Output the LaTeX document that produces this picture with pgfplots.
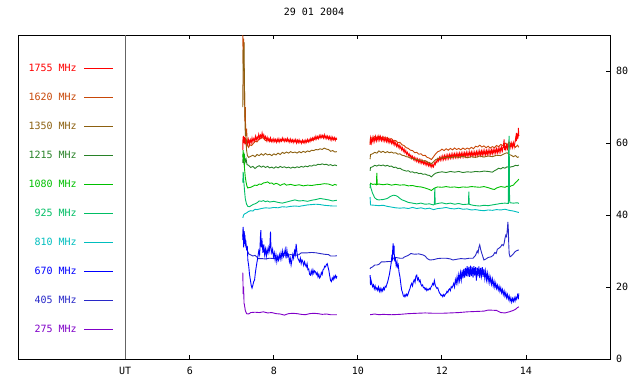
\documentclass[border=0pt]{standalone}
\usepackage{fontspec}
\setmainfont{DejaVu Sans Mono}
\usepackage{pgfplots}
\pgfplotsset{compat=1.18}
\definecolor{c1755}{RGB}{255,0,0}
\definecolor{c1620}{RGB}{200,72,8}
\definecolor{c1350}{RGB}{140,96,16}
\definecolor{c1215}{RGB}{40,130,40}
\definecolor{c1080}{RGB}{0,192,0}
\definecolor{c925}{RGB}{0,190,100}
\definecolor{c810}{RGB}{0,190,190}
\definecolor{c670}{RGB}{0,0,255}
\definecolor{c405}{RGB}{40,40,200}
\definecolor{c275}{RGB}{128,0,200}
\definecolor{vgray}{RGB}{100,100,100}
\begin{document}
\fontsize{10}{12}\selectfont
\begin{tikzpicture}
\path[use as bounding box] (0,0) rectangle (640pt,384pt);
\begin{axis}[
  at={(18pt,25pt)}, anchor=south west,
  scale only axis, width=592pt, height=324pt,
  xmin=1.91, xmax=16, ymin=0, ymax=90,
  xtick={6,8,10,12,14}, ytick={0,20,40,60,80},
  xtick pos=both, ytick pos=right, yticklabel pos=right,
  tick align=inside, major tick length=4pt,
  axis line style={line width=0.9pt},
  every tick/.style={black, line width=0.9pt},
  extra x ticks={4.46}, extra x tick labels={UT},
  extra x tick style={major tick length=0pt},
  unbounded coords=jump,
  /pgf/number format/assume math mode=true,
  tick label style={font=\fontsize{10}{12}\selectfont},
  xticklabel style={yshift=-5pt},
  yticklabel style={xshift=2.5pt},
  title={29 01 2004},
  title style={at={(0.5,1)}, anchor=base, yshift=14pt, font=\fontsize{10}{12}\selectfont},
  legend style={at={(axis cs:4.19,81.85)}, anchor=north east, draw=none, fill=none,
    inner sep=0pt, row sep=22pt, column sep=7pt,
    nodes={inner sep=0pt, text height=7pt, text depth=0pt},
    font=\fontsize{10}{12}\selectfont},
  legend cell align=right, legend plot pos=right,
  every axis plot/.append style={line width=0.9pt},
]
\addplot[vgray, forget plot] coordinates {(4.46,0) (4.46,90)};

% 1620
\addplot[c1620, forget plot] coordinates {
(7.26,90) (7.27,82) (7.28,89) (7.29,72) (7.30,76) (7.31,66) (7.32,70) (7.33,62) (7.35,64) (7.37,59.5) (7.40,58.8) (7.43,59.5) (7.47,59.3) (7.52,60) (7.56,60.5) (7.60,60.3) (7.64,61) (7.68,61.2) (7.72,61.8) (7.76,61.2) (7.80,60.7) (7.85,60.9) (7.90,60.5) (8.0,60.7) (8.1,60.5) (8.2,60.8) (8.3,60.6) (8.4,60.7) (8.5,60.4) (8.6,60.5) (8.7,60.2) (8.8,60.5) (8.9,60.7) (9.0,61.2) (9.1,61.6) (9.2,61.8) (9.3,61.4) (9.4,61.2) (9.5,61)
(9.9,nan)
(10.29,60) (10.30,61.5) (10.35,61.3) (10.40,61.8) (10.45,61.5) (10.50,61.9) (10.55,61.4) (10.60,61.7) (10.65,61.3) (10.70,61.5) (10.75,61) (10.80,61.2) (10.85,60.6) (10.90,60.7) (10.95,60.1) (11.00,60.2) (11.05,59.5) (11.10,59.3) (11.15,58.7) (11.20,58.5) (11.25,58) (11.30,57.9) (11.35,57.3) (11.40,57.4) (11.45,56.9) (11.50,57) (11.55,56.5) (11.60,56.6) (11.65,56) (11.70,55.8) (11.75,55.4) (11.80,56.2) (11.85,57) (11.90,57.6) (11.95,57.8) (12.0,58.3) (12.05,57.9) (12.10,58.4) (12.15,58) (12.20,58.5) (12.25,58.1) (12.30,58.6) (12.35,58.2) (12.40,58.5) (12.45,58.1) (12.50,58.6) (12.55,58.2) (12.60,58.6) (12.65,58.3) (12.70,58.8) (12.75,58.4) (12.80,59.1) (12.85,58.9) (12.90,59.4) (12.95,58.9) (13.00,59.2) (13.05,58.7) (13.10,59.1) (13.15,58.6) (13.20,59) (13.25,58.7) (13.30,59.3) (13.35,59) (13.40,59.6) (13.45,59.3) (13.50,60) (13.55,59.5) (13.60,60.2) (13.65,59.6) (13.70,59.8) (13.75,58.8) (13.80,59.4) (13.83,58.8)};

% 1755
\addplot[c1755, forget plot] coordinates {
(7.26,58) (7.265,61.8) (7.27,60.2) (7.28,62) (7.29,60) (7.30,61.6) (7.31,59.6) (7.32,61.5) (7.34,59.8) (7.36,60.8) (7.38,59.6) (7.40,61) (7.42,59.8) (7.44,60.9) (7.46,60) (7.48,61.4) (7.50,60.3) (7.52,61.2) (7.54,60.6) (7.56,61.9) (7.58,60.8) (7.60,61.7) (7.62,61) (7.64,62.4) (7.66,61.3) (7.68,62.2) (7.70,61.5) (7.72,62.8) (7.74,61.6) (7.76,62.3) (7.78,61.2) (7.80,61.8) (7.82,60.7) (7.84,61.6) (7.86,60.6) (7.88,61.3) (7.90,60.5) (7.92,61.4) (7.94,60.4) (7.96,61) (7.98,60.3) (8.00,61.2) (8.02,60.4) (8.04,61) (8.06,60.2) (8.08,61.1) (8.10,60.4) (8.12,61.2) (8.14,60.3) (8.16,61) (8.18,60.5) (8.20,61.4) (8.22,60.6) (8.24,61.2) (8.26,60.4) (8.28,61.1) (8.30,60.5) (8.32,61.3) (8.34,60.4) (8.36,61) (8.38,60.2) (8.40,61.1) (8.42,60.3) (8.44,60.9) (8.46,60.1) (8.48,60.9) (8.50,60.3) (8.52,61) (8.54,60) (8.56,60.8) (8.58,60.1) (8.60,60.9) (8.62,60.1) (8.64,60.6) (8.66,59.9) (8.68,60.8) (8.70,60.1) (8.72,60.7) (8.74,60) (8.76,60.8) (8.78,60.2) (8.80,61) (8.82,60.3) (8.84,61) (8.86,60.4) (8.88,61.3) (8.90,60.7) (8.92,61.4) (8.94,60.8) (8.96,61.6) (8.98,61) (9.00,61.9) (9.02,61.1) (9.04,61.8) (9.06,61.2) (9.08,62.1) (9.10,61.4) (9.12,62.2) (9.14,61.5) (9.16,62.1) (9.18,61.4) (9.20,62.3) (9.22,61.3) (9.24,62) (9.26,61.2) (9.28,61.9) (9.30,61.1) (9.32,61.8) (9.34,60.9) (9.36,61.7) (9.38,60.8) (9.40,61.6) (9.42,60.9) (9.44,61.5) (9.46,60.7) (9.48,61.4) (9.50,61)
(9.9,nan)
(10.29,59.5) (10.30,61.3) (10.32,60) (10.34,61.5) (10.36,60.3) (10.38,61.6) (10.40,60.5) (10.42,61.8) (10.44,60.6) (10.46,61.7) (10.48,60.7) (10.50,61.9) (10.52,60.8) (10.54,61.8) (10.56,60.7) (10.58,61.6) (10.60,60.6) (10.62,61.5) (10.64,60.5) (10.66,61.4) (10.68,60.4) (10.70,61.3) (10.72,60.2) (10.74,61.1) (10.76,60.1) (10.78,60.9) (10.80,59.9) (10.82,60.7) (10.84,59.7) (10.86,60.5) (10.88,59.4) (10.90,60.1) (10.92,59.1) (10.94,59.8) (10.96,58.8) (10.98,59.5) (11.00,58.5) (11.02,59.1) (11.04,58.1) (11.06,58.7) (11.08,57.7) (11.10,58.3) (11.12,57.3) (11.14,57.9) (11.16,56.9) (11.18,57.4) (11.20,56.5) (11.22,57) (11.24,56.1) (11.26,56.6) (11.28,55.7) (11.30,56.3) (11.32,55.4) (11.34,56) (11.36,55.1) (11.38,55.8) (11.40,54.9) (11.42,55.6) (11.44,54.7) (11.46,55.4) (11.48,54.5) (11.50,55.3) (11.52,54.4) (11.54,55.1) (11.56,54.2) (11.58,54.9) (11.60,54) (11.62,54.8) (11.64,53.9) (11.66,54.6) (11.68,53.7) (11.70,54.4) (11.72,53.5) (11.74,54.2) (11.76,53.3) (11.78,54) (11.80,53.4) (11.82,54.5) (11.84,54) (11.86,55) (11.88,54.6) (11.90,55.6) (11.92,55) (11.94,56) (11.96,55.2) (11.98,56.2) (12.00,55.3) (12.02,56.4) (12.04,55.4) (12.06,56.5) (12.08,55.5) (12.10,56.6) (12.12,55.6) (12.14,56.7) (12.16,55.7) (12.18,56.8) (12.20,55.8) (12.22,56.9) (12.24,55.9) (12.26,57) (12.28,55.9) (12.30,57) (12.32,56) (12.34,57.1) (12.36,56) (12.38,57.1) (12.40,56.1) (12.42,57.2) (12.44,56.1) (12.46,57.2) (12.48,56.2) (12.50,57.3) (12.52,56.2) (12.54,57.3) (12.56,56.3) (12.58,57.4) (12.60,56.3) (12.62,57.4) (12.64,56.4) (12.66,57.5) (12.68,56.4) (12.70,57.5) (12.72,56.4) (12.74,57.5) (12.76,56.4) (12.78,57.5) (12.80,56.5) (12.82,57.6) (12.84,56.5) (12.86,57.7) (12.88,56.6) (12.90,57.8) (12.92,56.6) (12.94,57.8) (12.96,56.6) (12.98,57.9) (13.00,56.7) (13.02,57.9) (13.04,56.7) (13.06,57.9) (13.08,56.8) (13.10,58) (13.12,56.8) (13.14,58) (13.16,56.9) (13.18,58.1) (13.20,57) (13.22,58.2) (13.24,57.1) (13.26,58.3) (13.28,57.2) (13.30,58.4) (13.32,57.3) (13.34,58.5) (13.36,57.4) (13.38,58.7) (13.40,57.6) (13.42,58.9) (13.44,57.8) (13.46,59) (13.48,61) (13.49,58) (13.50,59.2) (13.52,58.2) (13.54,59.5) (13.56,58.4) (13.58,59.8) (13.60,58.6) (13.62,59.9) (13.64,58.7) (13.66,60) (13.68,58.8) (13.70,60.1) (13.72,58.9) (13.74,60.3) (13.76,61.8) (13.77,60.5) (13.78,62.8) (13.79,61) (13.80,62.5) (13.81,61.2) (13.82,64.2) (13.83,62)};

% 1350
\addplot[c1350, forget plot] coordinates {
(7.26,70) (7.27,86) (7.28,80) (7.29,88) (7.30,76) (7.31,68) (7.32,62) (7.33,63) (7.35,58) (7.37,56.5) (7.40,56) (7.45,56.3) (7.50,56.6) (7.55,56.2) (7.60,56.8) (7.65,56.5) (7.70,57) (7.75,56.6) (7.80,57.1) (7.85,56.7) (7.90,56.9) (7.95,56.5) (8.00,57) (8.05,56.7) (8.10,57.2) (8.15,56.8) (8.20,57.4) (8.25,57.1) (8.30,57.5) (8.35,57.2) (8.40,57.6) (8.45,57.3) (8.50,57.5) (8.55,57.2) (8.60,57.6) (8.65,57.3) (8.70,57.7) (8.75,57.4) (8.80,57.8) (8.85,57.6) (8.90,58) (8.95,57.9) (9.00,58.2) (9.05,58.1) (9.10,58.4) (9.15,58.2) (9.20,58.6) (9.25,58.3) (9.30,58.2) (9.35,57.7) (9.40,57.9) (9.45,57.5) (9.50,57.6)
(9.9,nan)
(10.29,55.5) (10.30,56.8) (10.35,57) (10.40,57.4) (10.45,57.2) (10.50,57.8) (10.55,57.4) (10.60,57.7) (10.65,57.3) (10.70,57.6) (10.75,57.3) (10.80,57.5) (10.85,57.2) (10.90,57.3) (10.95,56.9) (11.00,57) (11.05,56.6) (11.10,56.5) (11.15,56.2) (11.20,56.1) (11.25,55.8) (11.30,55.7) (11.35,55.4) (11.40,55.5) (11.45,55.2) (11.50,55.3) (11.55,55) (11.60,55.1) (11.65,54.7) (11.70,54.6) (11.75,54.2) (11.80,54.8) (11.85,55.4) (11.90,55.6) (11.95,55.9) (12.00,55.8) (12.10,56.1) (12.20,55.9) (12.30,56.2) (12.40,56) (12.50,56.3) (12.60,55.9) (12.70,56.2) (12.80,56) (12.90,56.4) (13.00,56.1) (13.10,56.4) (13.20,56.2) (13.30,56.6) (13.40,56.5) (13.50,57.1) (13.55,57.3) (13.60,56.8) (13.65,56.6) (13.70,56.2) (13.75,56.5) (13.80,56) (13.83,56.2)};

% 1215
\addplot[c1215, forget plot] coordinates {
(7.26,54.5) (7.27,57) (7.28,55) (7.30,56.5) (7.32,54.8) (7.34,55.5) (7.36,54) (7.40,53.8) (7.45,53.2) (7.50,53.5) (7.55,52.9) (7.60,53.4) (7.65,53.7) (7.70,53.3) (7.75,53.6) (7.80,53.2) (7.85,53.5) (7.90,53.1) (7.95,53.3) (8.00,53) (8.05,53.4) (8.10,53.1) (8.15,53.5) (8.20,53.2) (8.25,53.4) (8.30,53.1) (8.35,53.3) (8.40,53) (8.45,53.3) (8.50,53.1) (8.55,53.4) (8.60,53.2) (8.65,53.5) (8.70,53.3) (8.75,53.6) (8.80,53.4) (8.85,53.7) (8.90,53.6) (8.95,53.9) (9.00,53.8) (9.05,54.1) (9.10,54) (9.15,54.2) (9.20,54) (9.25,54.1) (9.30,53.8) (9.35,54) (9.40,53.7) (9.45,53.9) (9.50,53.7)
(9.9,nan)
(10.29,52.3) (10.30,53.2) (10.35,53.4) (10.40,53.8) (10.45,53.6) (10.50,53.9) (10.55,53.7) (10.60,53.9) (10.65,53.6) (10.70,53.8) (10.75,53.5) (10.80,53.6) (10.85,53.2) (10.90,53.3) (10.95,52.9) (11.00,53) (11.05,52.6) (11.10,52.4) (11.15,52.2) (11.20,52.3) (11.25,51.9) (11.30,52) (11.35,51.7) (11.40,51.8) (11.45,51.5) (11.50,51.6) (11.55,51.3) (11.60,51.4) (11.65,51.1) (11.70,51) (11.75,50.6) (11.80,51.2) (11.85,51.6) (11.90,51.8) (12.00,52) (12.10,51.8) (12.20,52.1) (12.30,51.9) (12.40,52.1) (12.50,51.8) (12.60,52) (12.70,51.9) (12.80,52.1) (12.90,52) (13.00,52.2) (13.10,52.1) (13.20,51.9) (13.25,52.3) (13.30,52.6) (13.35,53) (13.40,52.8) (13.45,53.2) (13.50,53) (13.55,53.4) (13.60,53.2) (13.65,53.4) (13.70,53.5) (13.75,53.8) (13.80,53.7) (13.83,53.9)};

% 1080
\addplot[c1080, forget plot] coordinates {
(7.26,56) (7.27,58) (7.28,55) (7.29,57) (7.30,53) (7.32,50.5) (7.34,49) (7.36,48) (7.38,47.5) (7.40,47.6) (7.45,47.7) (7.50,48) (7.55,48.3) (7.60,48.2) (7.65,48.6) (7.70,48.5) (7.75,48.9) (7.80,49) (7.85,49.2) (7.90,48.8) (7.95,48.9) (8.00,48.5) (8.05,48.8) (8.10,48.6) (8.15,48.2) (8.20,48.5) (8.25,48.7) (8.30,48.3) (8.40,48.5) (8.50,48.2) (8.60,48.4) (8.70,48.1) (8.80,48.3) (8.90,48.2) (9.00,48.4) (9.10,48.5) (9.20,48.7) (9.30,48.6) (9.40,48.2) (9.45,48.5) (9.50,48.3)
(9.9,nan)
(10.29,47.5) (10.30,48.8) (10.35,48.5) (10.40,48.6) (10.44,48.4) (10.45,51.7) (10.46,48.5) (10.50,48.6) (10.60,48.4) (10.70,48.6) (10.80,48.3) (10.90,48.5) (11.00,48.3) (11.10,48.4) (11.20,48.1) (11.30,48.2) (11.40,47.9) (11.50,47.8) (11.60,47.5) (11.70,47.1) (11.75,46.8) (11.80,47.3) (11.85,47.6) (11.90,47.8) (12.00,47.7) (12.10,47.9) (12.20,47.7) (12.30,47.8) (12.40,47.6) (12.50,47.8) (12.60,47.7) (12.70,47.9) (12.80,47.8) (12.90,47.7) (13.00,47.9) (13.10,47.6) (13.20,47.2) (13.25,47.1) (13.30,47.5) (13.40,47.9) (13.50,47.7) (13.55,48) (13.60,47.8) (13.65,48.1) (13.70,48.3) (13.75,49.0) (13.80,49.5) (13.83,50)};

% 925
\addplot[c925, forget plot] coordinates {
(7.26,49) (7.27,52) (7.28,50) (7.30,47) (7.32,44.5) (7.35,43) (7.38,42.4) (7.42,42.3) (7.46,42.6) (7.50,42.9) (7.55,43.1) (7.60,43.4) (7.65,43.9) (7.70,43.8) (7.75,44) (7.80,43.7) (7.85,43.9) (7.90,43.6) (8.00,43.8) (8.10,43.5) (8.20,43.3) (8.30,43.6) (8.40,43.9) (8.50,44.2) (8.60,43.9) (8.70,44) (8.80,43.8) (8.90,44.1) (9.00,44.3) (9.10,44.6) (9.20,44.4) (9.30,44.2) (9.40,43.9) (9.50,44.1)
(9.9,nan)
(10.29,48.6) (10.31,47.5) (10.35,46) (10.40,44.8) (10.45,44.3) (10.50,44.2) (10.60,44.3) (10.70,44.6) (10.75,45.0) (10.80,45.3) (10.85,45.5) (10.90,45.4) (10.95,45.1) (11.00,44.6) (11.05,44.2) (11.10,44) (11.20,43.5) (11.30,43.3) (11.40,43.1) (11.50,43.3) (11.60,43) (11.70,43.1) (11.80,42.8) (11.82,43) (11.83,47.5) (11.84,43) (11.90,43.2) (12.00,43.4) (12.10,43.1) (12.20,43.3) (12.30,43) (12.40,43.2) (12.50,42.9) (12.60,43) (12.63,43) (12.64,46.5) (12.65,43) (12.70,42.8) (12.80,42.6) (12.90,42.5) (13.00,42.7) (13.10,42.6) (13.20,42.8) (13.30,43) (13.40,43.2) (13.50,43.3) (13.58,43.2) (13.59,60) (13.60,62) (13.61,44) (13.62,43.4) (13.70,43.3) (13.80,43.4) (13.83,43.2)};

% 810
\addplot[c810, forget plot] coordinates {
(7.26,39.2) (7.28,40) (7.30,40.3) (7.35,40.6) (7.40,41) (7.45,41.2) (7.50,41.1) (7.55,41.6) (7.60,41.5) (7.70,41.8) (7.80,42) (7.90,41.9) (8.00,42.1) (8.10,42) (8.20,42.3) (8.30,42.2) (8.40,42.4) (8.50,42.5) (8.60,42.4) (8.70,42.6) (8.80,42.8) (8.90,42.9) (9.00,43) (9.10,42.9) (9.20,42.7) (9.30,42.6) (9.40,42.5) (9.50,42.5)
(9.9,nan)
(10.29,45) (10.30,42.8) (10.40,42.7) (10.50,42.6) (10.60,42.7) (10.70,42.4) (10.80,42.2) (10.90,42) (11.00,41.9) (11.10,42) (11.20,41.8) (11.30,42.1) (11.40,41.8) (11.50,42) (11.60,41.7) (11.70,41.9) (11.80,41.5) (11.90,41.8) (12.00,41.9) (12.10,42.1) (12.20,41.8) (12.30,41.7) (12.40,41.9) (12.50,41.6) (12.60,41.7) (12.70,41.4) (12.80,41.5) (12.90,41.3) (13.00,41.2) (13.10,41.4) (13.20,41.3) (13.30,41.5) (13.40,41.4) (13.50,41.6) (13.60,41.3) (13.70,41.1) (13.80,40.8) (13.83,40.7)};

% 405
\addplot[c405, forget plot] coordinates {
(7.26,34) (7.27,36) (7.28,33) (7.30,34.5) (7.32,32) (7.34,31) (7.36,30.5) (7.38,29.8) (7.40,29.2) (7.45,28.9) (7.50,28.6) (7.55,28.8) (7.60,28.3) (7.62,27.9) (7.70,27.9) (7.80,27.8) (7.90,28) (8.00,27.9) (8.10,27.8) (8.15,28.5) (8.20,28.9) (8.30,28.8) (8.40,29) (8.50,28.8) (8.60,29) (8.65,29.5) (8.80,29.5) (8.90,29.6) (9.00,29.5) (9.10,29.3) (9.20,29.1) (9.30,29.0) (9.35,28.6) (9.45,28.6) (9.50,28.7)
(9.9,nan)
(10.29,25) (10.30,25.3) (10.35,25.6) (10.40,26.1) (10.45,26.1) (10.50,26.3) (10.56,27) (10.65,27) (10.75,27.1) (10.80,27) (10.84,28) (10.90,28.2) (11.00,28) (11.07,28) (11.10,28.3) (11.20,28.8) (11.26,29.3) (11.35,29.1) (11.45,29.2) (11.55,28.9) (11.60,28.6) (11.65,27.9) (11.71,27.5) (11.80,27.6) (11.90,27.9) (12.00,28) (12.10,28) (12.20,27.8) (12.26,27.5) (12.35,27.7) (12.45,27.9) (12.55,27.8) (12.65,28) (12.74,28) (12.80,28.8) (12.84,30) (12.86,29.5) (12.88,31) (12.90,31.7) (12.92,30.5) (12.95,29.3) (12.98,28.2) (13.00,27.5) (13.05,27.8) (13.10,28.2) (13.17,28.4) (13.22,28.8) (13.26,29.6) (13.29,29.3) (13.32,30.5) (13.36,30.8) (13.40,31.2) (13.43,31.8) (13.46,31.5) (13.48,32.1) (13.50,33.5) (13.52,34.4) (13.54,34) (13.56,36.5) (13.57,38.1) (13.58,36) (13.59,32) (13.60,29.3) (13.62,28.4) (13.65,28.6) (13.70,29.2) (13.74,29.8) (13.78,30.1) (13.83,30.3)};

% 670
\addplot[c670, forget plot] coordinates {
(7.26,33) (7.27,36.7) (7.28,31) (7.29,35.5) (7.30,32) (7.31,34.5) (7.32,31.5) (7.33,33) (7.35,30.5) (7.37,31) (7.38,27.5) (7.40,26) (7.42,23.5) (7.44,22) (7.46,20.5) (7.48,19.7) (7.50,20.5) (7.52,21.5) (7.54,21.9) (7.56,24) (7.58,25.6) (7.60,27) (7.62,28.5) (7.64,30) (7.66,29) (7.67,31) (7.68,34) (7.69,35.8) (7.70,31) (7.72,32.5) (7.74,29.5) (7.76,31.8) (7.78,29) (7.80,30.5) (7.82,28.5) (7.84,30.5) (7.86,29.4) (7.88,31) (7.90,30) (7.91,33) (7.92,35.4) (7.93,31) (7.95,29.5) (7.97,30.5) (7.99,28.4) (8.01,29.5) (8.03,27.5) (8.05,29) (8.07,27) (8.09,28.5) (8.11,27.5) (8.13,29) (8.15,27.8) (8.17,29.5) (8.19,28) (8.21,30) (8.23,28.5) (8.25,29.3) (8.27,30.5) (8.29,28) (8.31,30.3) (8.33,28.5) (8.35,29) (8.37,27) (8.39,28) (8.41,26.1) (8.43,27.5) (8.45,29) (8.47,28) (8.49,30) (8.51,29) (8.53,32) (8.55,29.5) (8.57,28) (8.59,27.5) (8.61,27) (8.63,28) (8.65,26.5) (8.67,27.5) (8.69,27) (8.71,26) (8.73,27) (8.75,26.2) (8.77,25.6) (8.79,26.5) (8.81,24.8) (8.83,25) (8.85,23.5) (8.87,23.3) (8.89,24.5) (8.91,23.5) (8.93,24.8) (8.95,23.8) (8.97,24.5) (8.99,24.2) (9.01,23.5) (9.03,24) (9.05,22.8) (9.07,23.5) (9.09,22.5) (9.11,22.9) (9.13,24) (9.15,23.5) (9.17,24.8) (9.19,25) (9.21,25.8) (9.23,25.6) (9.25,26.2) (9.27,26.5) (9.29,25.5) (9.31,24.5) (9.33,23) (9.35,21.8) (9.37,21.5) (9.39,22.5) (9.41,22) (9.43,23) (9.45,22.4) (9.47,23.2) (9.49,22.6) (9.50,23)
(9.9,nan)
(10.29,23.3) (10.30,20.5) (10.31,22) (10.33,21) (10.35,20.1) (10.37,20.6) (10.39,19.5) (10.41,20.3) (10.43,19.3) (10.45,19.8) (10.47,19.1) (10.49,20) (10.51,18.8) (10.53,19.6) (10.55,18.7) (10.57,19.5) (10.59,18.9) (10.61,19.8) (10.63,19.3) (10.65,20.2) (10.67,20) (10.69,20.8) (10.71,21.5) (10.73,22.5) (10.75,23.5) (10.77,25) (10.79,26.5) (10.80,27.5) (10.81,29) (10.82,27.5) (10.83,31) (10.84,32.1) (10.85,29) (10.86,31.5) (10.87,27.5) (10.89,28) (10.91,26) (10.93,27) (10.94,25.6) (10.96,26.2) (10.98,24) (11.00,22.9) (11.02,21) (11.04,19.2) (11.06,18.5) (11.08,17.6) (11.10,17.3) (11.12,17.9) (11.14,17.4) (11.16,18) (11.18,17.6) (11.20,18.3) (11.22,19) (11.24,19.6) (11.26,20.5) (11.28,21) (11.30,20.3) (11.32,21.5) (11.34,22) (11.36,21.3) (11.38,23) (11.40,23.3) (11.42,22) (11.44,22.5) (11.46,21.5) (11.48,21.9) (11.50,20.8) (11.52,20.3) (11.54,20.6) (11.56,19.8) (11.58,19.9) (11.60,19.3) (11.62,19.7) (11.64,19) (11.66,19.4) (11.68,19.2) (11.70,19.6) (11.72,19.3) (11.74,20) (11.76,20.3) (11.78,21) (11.80,20.6) (11.82,21.8) (11.84,20.5) (11.86,20) (11.88,19.6) (11.90,19.8) (11.92,19) (11.94,18.4) (11.96,18.1) (11.98,17.6) (12.00,17.8) (12.02,17.3) (12.04,17.9) (12.06,17.5) (12.08,18) (12.10,18.2) (12.12,18.8) (12.14,18.5) (12.16,19.2) (12.18,19.5) (12.20,19) (12.22,20.1) (12.24,19.8) (12.26,20.3) (12.28,21) (12.30,20) (12.32,22) (12.34,21) (12.36,22.8) (12.38,21.2) (12.40,23.4) (12.42,21.8) (12.44,24) (12.46,22) (12.48,24.6) (12.50,22.4) (12.52,25) (12.54,22.6) (12.56,25.3) (12.58,23) (12.60,25.8) (12.62,22.9) (12.64,25.6) (12.66,22.8) (12.68,25.9) (12.70,23) (12.72,25.6) (12.74,22.6) (12.76,25.8) (12.78,23.2) (12.80,25.5) (12.82,21.8) (12.84,25.4) (12.86,23) (12.88,25.7) (12.90,22.5) (12.92,25.3) (12.94,23.1) (12.96,25.5) (12.98,22.8) (13.00,25) (13.02,22.4) (13.04,24.4) (13.06,22) (13.08,23.8) (13.10,21.6) (13.12,23.2) (13.14,21.2) (13.16,22.6) (13.18,20.8) (13.20,22.2) (13.22,20.3) (13.24,21.6) (13.26,19.9) (13.28,21.1) (13.30,19.6) (13.32,20.5) (13.34,19.2) (13.36,20.2) (13.38,18.8) (13.40,19.8) (13.42,18.4) (13.44,19.3) (13.46,17.9) (13.48,18.9) (13.50,17.4) (13.52,18.4) (13.54,17) (13.56,17.9) (13.58,16.6) (13.60,17.5) (13.62,16.1) (13.64,17) (13.66,15.8) (13.68,16.8) (13.70,16) (13.72,17) (13.74,16.1) (13.76,17.2) (13.78,16.6) (13.80,17.8) (13.82,17) (13.83,18.2)};

% 275
\addplot[c275, forget plot] coordinates {
(7.26,24) (7.27,18) (7.28,20) (7.29,15.5) (7.30,15) (7.32,13.5) (7.35,12.6) (7.40,12.5) (7.45,12.9) (7.55,13.0) (7.65,12.9) (7.75,13.1) (7.85,12.8) (7.95,12.9) (8.05,12.6) (8.15,12.5) (8.25,12.2) (8.35,12.6) (8.45,12.7) (8.55,12.6) (8.65,12.4) (8.75,12.3) (8.85,12.6) (8.95,12.7) (9.05,12.6) (9.15,12.4) (9.25,12.5) (9.35,12.3) (9.50,12.3)
(9.9,nan)
(10.29,12.3) (10.40,12.5) (10.50,12.3) (10.60,12.4) (10.80,12.3) (11.00,12.4) (11.20,12.6) (11.40,12.7) (11.60,12.8) (11.80,12.7) (12.00,12.7) (12.20,12.8) (12.40,12.9) (12.60,13.1) (12.80,13.2) (13.00,13.3) (13.10,13.6) (13.30,13.5) (13.40,12.9) (13.50,12.8) (13.60,13.1) (13.70,13.5) (13.75,13.8) (13.80,14.3) (13.83,14.5)};

\addlegendimage{legend image code/.code={\draw[c1755,line width=0.9pt] (0pt,0pt) -- (29pt,0pt);}}\addlegendentry{\textcolor{c1755}{1755 MHz}}
\addlegendimage{legend image code/.code={\draw[c1620,line width=0.9pt] (0pt,0pt) -- (29pt,0pt);}}\addlegendentry{\textcolor{c1620}{1620 MHz}}
\addlegendimage{legend image code/.code={\draw[c1350,line width=0.9pt] (0pt,0pt) -- (29pt,0pt);}}\addlegendentry{\textcolor{c1350}{1350 MHz}}
\addlegendimage{legend image code/.code={\draw[c1215,line width=0.9pt] (0pt,0pt) -- (29pt,0pt);}}\addlegendentry{\textcolor{c1215}{1215 MHz}}
\addlegendimage{legend image code/.code={\draw[c1080,line width=0.9pt] (0pt,0pt) -- (29pt,0pt);}}\addlegendentry{\textcolor{c1080}{1080 MHz}}
\addlegendimage{legend image code/.code={\draw[c925,line width=0.9pt] (0pt,0pt) -- (29pt,0pt);}}\addlegendentry{\textcolor{c925}{925 MHz}}
\addlegendimage{legend image code/.code={\draw[c810,line width=0.9pt] (0pt,0pt) -- (29pt,0pt);}}\addlegendentry{\textcolor{c810}{810 MHz}}
\addlegendimage{legend image code/.code={\draw[c670,line width=0.9pt] (0pt,0pt) -- (29pt,0pt);}}\addlegendentry{\textcolor{c670}{670 MHz}}
\addlegendimage{legend image code/.code={\draw[c405,line width=0.9pt] (0pt,0pt) -- (29pt,0pt);}}\addlegendentry{\textcolor{c405}{405 MHz}}
\addlegendimage{legend image code/.code={\draw[c275,line width=0.9pt] (0pt,0pt) -- (29pt,0pt);}}\addlegendentry{\textcolor{c275}{275 MHz}}
\end{axis}
\end{tikzpicture}
\end{document}
